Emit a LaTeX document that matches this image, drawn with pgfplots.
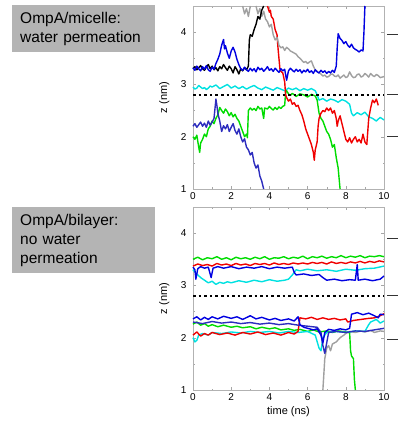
\documentclass[border=0pt]{standalone}
\usepackage{fontspec}
\setmainfont{Liberation Sans}
\usepackage{pgfplots}
\pgfplotsset{compat=1.18}

\definecolor{pblue}{RGB}{0,0,225}
\definecolor{pdblue}{RGB}{45,45,190}
\definecolor{pred}{RGB}{240,0,0}
\definecolor{pgreen}{RGB}{0,220,0}
\definecolor{pcyan}{RGB}{0,225,225}
\definecolor{pgray}{RGB}{160,160,160}
\definecolor{boxgray}{RGB}{180,180,180}

\pgfplotsset{
  panel/.style={
    scale only axis, width=191pt, height=183pt,
    xmin=0, xmax=10, ymin=1, ymax=4.5,
    xtick={0,2,...,10}, ytick={1,2,3,4},
    minor x tick num=1, minor y tick num=1,
    tick align=inside, major tick length=3pt, minor tick length=1.5pt,
    axis line style={gray!60}, every tick/.style={gray!70},
    tick label style={font=\fontsize{10}{11}\selectfont},
    yticklabel style={xshift=-3pt},
    /pgf/number format/assume math mode=true,
    clip=false, unbounded coords=jump,
    every axis y label/.style={at={(axis description cs:-0.15,0.5)}, rotate=90, anchor=center, font=\fontsize{11}{12}\selectfont},
    ylabel={z (nm)},
    every axis plot/.append style={line width=1.4pt, line join=round},
  },
}

\begin{document}
\begin{tikzpicture}
\useasboundingbox (0,0) rectangle (405pt,421pt);

\node[fill=boxgray, anchor=north west, minimum width=143pt, minimum height=47pt,
  text width=127pt, inner xsep=8pt, align=left, font=\fontsize{15.5}{19}\selectfont]
  at (12pt,416pt) {OmpA/micelle:\\water permeation};
\node[fill=boxgray, anchor=north west, minimum width=143pt, minimum height=66pt,
  text width=127pt, inner xsep=8pt, align=left, font=\fontsize{15.5}{19}\selectfont]
  at (12pt,214pt) {OmpA/bilayer:\\no water\\permeation};

% ---------------- micelle ----------------
\begin{axis}[panel, at={(193pt,232pt)}, anchor=south west]
% cyan
\addplot[pcyan] coordinates {(0,2.95)(0.1,2.91)(0.2,2.93)(0.3,2.98)(0.4,2.95)(0.5,2.92)(0.6,2.94)(0.7,2.90)(0.8,2.93)(0.9,2.97)(1.0,2.95)(1.2,2.99)(1.4,2.92)(1.6,2.96)(1.8,3.00)(2.0,2.93)(2.2,2.97)(2.4,2.92)(2.6,2.96)(2.8,2.91)(3.0,2.95)(3.2,2.98)(3.4,2.93)(3.6,2.90)(3.8,2.95)(4.0,2.92)(4.2,2.89)(4.4,2.94)(4.6,2.91)(4.8,2.88)(5.0,2.93)(5.2,2.90)(5.4,2.93)(5.6,2.88)(5.8,2.92)(6.0,2.89)(6.2,2.92)(6.4,2.88)(6.5,2.80)(6.6,2.70)(6.8,2.73)(7.0,2.68)(7.2,2.72)(7.4,2.70)(7.6,2.66)(7.8,2.71)(8.0,2.68)(8.2,2.62)(8.3,2.45)(8.4,2.40)(8.6,2.46)(8.8,2.42)(9.0,2.47)(9.2,2.38)(9.4,2.35)(9.6,2.30)(9.8,2.37)(10,2.32)};
% green
\addplot[pgreen] coordinates {(0,2.00)(0.1,1.95)(0.2,2.03)(0.3,1.80)(0.35,1.70)(0.4,1.88)(0.5,1.95)(0.6,2.05)(0.7,2.00)(0.8,2.15)(0.9,2.20)(1.0,2.30)(1.1,2.25)(1.2,2.35)(1.3,2.42)(1.4,2.56)(1.5,2.50)(1.6,2.45)(1.7,2.53)(1.8,2.48)(1.9,2.40)(2.0,2.46)(2.1,2.38)(2.2,2.43)(2.3,2.35)(2.4,2.30)(2.5,2.20)(2.6,2.10)(2.7,2.00)(2.8,2.05)(2.85,1.98)(2.9,2.50)(3.0,2.55)(3.1,2.51)(3.2,2.54)(3.3,2.50)(3.4,2.58)(3.5,2.53)(3.6,2.55)(3.7,2.35)(3.75,2.55)(3.9,2.53)(4.0,2.58)(4.1,2.54)(4.2,2.51)(4.3,2.56)(4.4,2.52)(4.5,2.57)(4.6,2.54)(4.7,2.58)(4.8,2.60)(4.85,2.85)(4.9,2.88)(5.0,2.82)(5.1,2.79)(5.2,2.83)(5.4,2.77)(5.6,2.82)(5.8,2.80)(6.0,2.76)(6.2,2.81)(6.4,2.78)(6.5,2.70)(6.6,2.45)(6.7,2.35)(6.8,2.30)(6.9,2.20)(7.0,2.10)(7.1,2.05)(7.2,1.95)(7.3,1.80)(7.4,1.85)(7.5,1.60)(7.6,1.40)(7.65,1.20)(7.7,1.00)};
% dark blue
\addplot[pdblue] coordinates {(0,2.20)(0.1,2.25)(0.2,2.18)(0.3,2.23)(0.4,2.28)(0.5,2.20)(0.6,2.26)(0.7,2.18)(0.8,2.30)(0.9,2.22)(1.0,2.28)(1.1,2.35)(1.2,2.72)(1.25,2.60)(1.3,2.45)(1.4,2.30)(1.5,2.10)(1.6,2.21)(1.7,2.15)(1.8,2.23)(1.9,2.10)(2.0,2.18)(2.1,2.25)(2.2,2.12)(2.3,2.05)(2.4,2.15)(2.5,2.00)(2.6,1.90)(2.7,1.96)(2.8,1.80)(2.9,1.75)(3.0,1.65)(3.1,1.70)(3.2,1.50)(3.3,1.40)(3.4,1.46)(3.5,1.25)(3.6,1.15)(3.7,1.00)};
% red
\addplot[pred] coordinates {(3.9,4.50)(4.0,4.38)(4.05,4.42)(4.1,4.30)(4.2,4.25)(4.3,4.05)(4.4,3.95)(4.45,3.70)(4.5,3.50)(4.55,3.30)(4.6,3.25)(4.7,3.22)(4.8,3.05)(4.85,2.80)(4.9,2.75)(5.0,2.68)(5.1,2.72)(5.2,2.62)(5.3,2.65)(5.4,2.58)(5.5,2.60)(5.6,2.50)(5.7,2.42)(5.8,2.30)(5.9,2.15)(6.0,2.05)(6.1,1.95)(6.2,1.85)(6.3,1.70)(6.35,1.55)(6.4,1.75)(6.5,1.90)(6.55,2.20)(6.6,2.35)(6.7,2.45)(6.8,2.50)(6.9,2.48)(7.0,2.55)(7.1,2.50)(7.2,2.55)(7.3,2.45)(7.4,2.50)(7.5,2.35)(7.55,2.20)(7.6,2.30)(7.7,2.40)(7.8,2.25)(7.9,2.10)(8.0,1.95)(8.1,1.90)(8.2,1.98)(8.3,1.88)(8.4,1.95)(8.5,2.00)(8.6,1.90)(8.7,1.95)(8.8,1.88)(8.9,2.05)(9.0,1.90)(9.1,1.85)(9.2,2.35)(9.3,2.55)(9.4,2.70)(9.5,2.65)(9.6,2.72)(9.7,2.60)};
% gray
\addplot[pgray] coordinates {(2.6,4.50)(2.7,4.35)(2.8,4.45)(2.9,4.30)(3.0,4.50)(3.05,nan)(3.3,4.50)(3.4,4.35)(3.5,4.45)(3.6,4.30)(3.7,4.40)(3.8,4.25)(3.9,4.20)(4.0,4.10)(4.1,4.15)(4.2,3.95)(4.3,3.85)(4.4,3.90)(4.5,3.75)(4.6,3.70)(4.7,3.72)(4.8,3.65)(4.9,3.71)(5.0,3.68)(5.1,3.64)(5.2,3.62)(5.3,3.60)(5.4,3.58)(5.5,3.53)(5.6,3.50)(5.7,3.46)(5.8,3.42)(5.9,3.44)(6.0,3.40)(6.1,3.43)(6.2,3.45)(6.3,3.35)(6.4,3.28)(6.5,3.25)(6.6,3.22)(6.7,3.20)(6.8,3.16)(6.9,3.18)(7.0,3.14)(7.1,3.15)(7.2,3.19)(7.3,3.20)(7.4,3.16)(7.5,3.15)(7.6,3.18)(7.7,3.12)(7.8,3.15)(7.9,3.18)(8.0,3.13)(8.1,3.15)(8.2,3.24)(8.3,3.17)(8.4,3.13)(8.5,3.14)(8.6,3.19)(8.7,3.20)(8.8,3.14)(8.9,3.16)(9.0,3.21)(9.1,3.18)(9.2,3.14)(9.3,3.21)(9.4,3.17)(9.5,3.15)(9.6,3.19)(9.7,3.17)(9.8,3.13)(9.9,3.14)(10,3.15)};
% black
\addplot[black] coordinates {(0,3.30)(0.1,3.34)(0.2,3.28)(0.3,3.32)(0.4,3.36)(0.5,3.30)(0.6,3.27)(0.7,3.33)(0.8,3.38)(0.9,3.30)(1.0,3.35)(1.1,3.28)(1.2,3.32)(1.3,3.26)(1.4,3.34)(1.5,3.30)(1.6,3.38)(1.7,3.32)(1.8,3.27)(1.9,3.35)(2.0,3.30)(2.1,3.22)(2.2,3.34)(2.3,3.28)(2.4,3.20)(2.5,3.30)(2.6,3.26)(2.7,3.32)(2.8,3.28)(2.9,3.35)(2.95,3.85)(3.0,3.95)(3.1,3.92)(3.2,4.05)(3.3,4.15)(3.4,4.30)(3.5,4.25)(3.6,4.42)(3.7,4.50)};
% blue
\addplot[pblue] coordinates {(0,3.32)(0.1,3.27)(0.2,3.35)(0.3,3.30)(0.4,3.26)(0.5,3.34)(0.6,3.29)(0.7,3.36)(0.8,3.28)(0.9,3.25)(1.0,3.33)(1.1,3.29)(1.2,3.40)(1.3,3.48)(1.4,3.58)(1.5,3.75)(1.6,3.86)(1.65,3.68)(1.7,3.74)(1.8,3.60)(1.9,3.50)(2.0,3.64)(2.1,3.71)(2.2,3.62)(2.3,3.48)(2.4,3.38)(2.5,3.30)(2.6,3.27)(2.7,3.33)(2.8,3.28)(2.9,3.25)(3.0,3.31)(3.1,3.26)(3.2,3.30)(3.3,3.24)(3.4,3.33)(3.5,3.28)(3.6,3.31)(3.7,3.25)(3.8,3.29)(3.9,3.34)(4.0,3.27)(4.1,3.30)(4.2,3.25)(4.3,3.31)(4.4,3.27)(4.5,3.23)(4.6,3.30)(4.7,3.26)(4.8,3.29)(4.9,3.08)(5.0,3.26)(5.1,3.31)(5.2,3.27)(5.3,3.24)(5.4,3.29)(5.5,3.25)(5.6,3.28)(5.7,3.22)(5.8,3.27)(5.9,3.24)(6.0,3.29)(6.1,3.23)(6.2,3.26)(6.3,3.21)(6.4,3.28)(6.5,3.24)(6.6,3.22)(6.7,3.27)(6.8,3.23)(6.9,3.26)(7.0,3.21)(7.1,3.25)(7.2,3.22)(7.3,3.27)(7.4,3.23)(7.5,3.35)(7.55,3.70)(7.6,3.97)(7.7,3.88)(7.8,3.84)(7.9,3.78)(8.0,3.82)(8.1,3.75)(8.2,3.71)(8.3,3.77)(8.4,3.70)(8.5,3.67)(8.6,3.65)(8.7,3.62)(8.8,3.66)(8.9,3.64)(8.95,4.00)(9.0,4.50)};
% dotted reference
\addplot[black, line width=2.6pt, dash pattern=on 2.6pt off 3pt] coordinates {(0,2.8)(10,2.8)};
% side marks
\addplot[black!80, line width=0.9pt] coordinates {(10.16,3.95)(10.73,3.95)};
\addplot[black!80, line width=0.9pt] coordinates {(10.16,2.80)(10.73,2.80)};
\addplot[black!80, line width=0.9pt] coordinates {(10.16,2.00)(10.73,2.00)};
\end{axis}

% ---------------- bilayer ----------------
\begin{axis}[panel, at={(193pt,31pt)}, anchor=south west,
  xlabel={time (ns)},
  every axis x label/.style={at={(axis description cs:0.5,0)}, yshift=-22pt, anchor=center, font=\fontsize{11}{12}\selectfont}]
% gray
\addplot[pgray] coordinates {(6.8,1.00)(6.85,1.30)(6.9,1.60)(7.0,1.80)(7.1,1.85)(7.2,1.75)(7.3,1.88)(7.5,1.92)(7.7,2.00)(7.9,2.05)(8.0,2.08)(8.2,2.12)(8.5,2.10)(8.8,2.13)(9.0,2.11)(9.3,2.14)(9.5,2.10)(9.8,2.13)(10,2.12)};
% green lower
\addplot[pgreen] coordinates {(0,2.26)(0.2,2.30)(0.4,2.24)(0.6,2.27)(0.8,2.22)(1.0,2.25)(1.3,2.21)(1.6,2.24)(2.0,2.20)(2.3,2.22)(2.6,2.19)(3.0,2.21)(3.3,2.17)(3.6,2.20)(4.0,2.17)(4.3,2.19)(4.6,2.15)(5.0,2.17)(5.3,2.14)(5.6,2.16)(6.0,2.12)(6.3,2.15)(6.6,2.11)(7.0,2.13)(7.3,2.10)(7.6,2.13)(8.0,2.11)(8.2,2.10)(8.25,1.75)(8.3,1.65)(8.4,1.60)(8.45,1.20)(8.5,1.00)};
% cyan lower
\addplot[pcyan] coordinates {(0,2.00)(0.1,1.92)(0.2,1.95)(0.3,2.05)(0.5,2.08)(0.8,2.05)(1.0,2.10)(1.5,2.08)(2.0,2.11)(2.5,2.09)(3.0,2.12)(3.5,2.10)(4.0,2.12)(4.5,2.09)(5.0,2.12)(5.5,2.10)(6.0,2.12)(6.4,2.05)(6.6,1.80)(6.7,1.75)(6.8,2.00)(7.0,2.10)(7.5,2.12)(8.0,2.10)(8.5,2.13)(9.0,2.12)(9.2,2.25)(9.3,2.30)(9.6,2.35)(9.8,2.28)(10,2.32)};
% red lower
\addplot[pred] coordinates {(0,2.05)(0.2,2.11)(0.4,2.03)(0.6,2.08)(0.8,2.05)(1.0,2.10)(1.4,2.06)(1.8,2.09)(2.2,2.05)(2.6,2.10)(3.0,2.07)(3.4,2.11)(3.8,2.06)(4.2,2.09)(4.6,2.05)(5.0,2.10)(5.3,2.07)(5.5,2.12)(5.6,2.38)(5.9,2.36)(6.2,2.39)(6.5,2.35)(6.8,2.38)(7.1,2.35)(7.4,2.37)(7.7,2.34)(8.0,2.36)(8.1,2.30)(8.4,2.33)(8.8,2.35)(9.2,2.37)(9.5,2.38)(9.8,2.42)(10,2.46)};
% dark blue lower
\addplot[pdblue] coordinates {(0,2.30)(0.5,2.27)(1.0,2.31)(1.5,2.28)(2.0,2.30)(2.5,2.27)(3.0,2.29)(3.5,2.26)(4.0,2.28)(4.5,2.25)(5.0,2.27)(5.5,2.24)(6.0,2.22)(6.5,2.20)(6.7,2.10)(6.8,1.85)(6.9,1.70)(7.0,1.90)(7.1,2.10)(7.5,2.12)(8.0,2.10)(8.5,2.13)(9.0,2.12)(9.5,2.15)(10,2.18)};
% blue lower
\addplot[pblue] coordinates {(0,2.36)(0.2,2.40)(0.4,2.34)(0.6,2.39)(0.8,2.35)(1.0,2.40)(1.3,2.36)(1.6,2.41)(2.0,2.37)(2.3,2.40)(2.6,2.35)(3.0,2.42)(3.3,2.36)(3.6,2.39)(4.0,2.34)(4.3,2.37)(4.6,2.33)(5.0,2.36)(5.3,2.32)(5.5,2.40)(5.6,2.25)(5.8,2.20)(6.0,2.18)(6.3,2.15)(6.5,2.17)(6.7,2.05)(6.8,1.90)(6.9,2.10)(7.1,2.16)(7.4,2.14)(7.7,2.17)(8.0,2.15)(8.2,2.18)(8.3,2.45)(8.6,2.48)(8.9,2.44)(9.2,2.47)(9.5,2.42)(9.7,2.38)(9.8,2.45)(10,2.44)};
% cyan upper
\addplot[pcyan] coordinates {(0,3.30)(0.2,3.22)(0.4,3.15)(0.6,3.10)(0.8,3.05)(1.0,3.08)(1.2,3.02)(1.4,3.06)(1.6,3.04)(1.8,3.07)(2.0,3.05)(2.4,3.09)(2.8,3.06)(3.2,3.10)(3.6,3.07)(4.0,3.11)(4.4,3.08)(4.8,3.10)(5.0,3.12)(5.2,3.20)(5.4,3.30)(5.6,3.28)(6.0,3.31)(6.5,3.28)(7.0,3.30)(7.5,3.27)(8.0,3.31)(8.5,3.29)(9.0,3.32)(9.5,3.33)(10,3.37)};
% blue upper
\addplot[pblue] coordinates {(0,3.35)(0.1,3.30)(0.15,3.12)(0.25,3.32)(0.4,3.36)(0.6,3.33)(0.8,3.35)(0.95,3.15)(1.05,3.33)(1.3,3.36)(1.6,3.33)(2.0,3.36)(2.4,3.32)(2.8,3.35)(3.2,3.33)(3.6,3.36)(4.0,3.32)(4.4,3.35)(4.8,3.33)(5.2,3.35)(5.3,3.25)(5.4,3.20)(5.8,3.22)(6.2,3.19)(6.6,3.21)(6.8,3.15)(7.0,3.10)(7.4,3.12)(7.8,3.09)(8.2,3.11)(8.5,3.10)(8.6,3.40)(8.65,3.10)(9.0,3.12)(9.4,3.09)(9.8,3.12)(10,3.18)};
% red upper
\addplot[pred] coordinates {(0,3.37)(0.25,3.41)(0.5,3.38)(0.75,3.40)(1,3.37)(1.25,3.42)(1.5,3.39)(1.75,3.41)(2,3.38)(2.25,3.42)(2.5,3.39)(2.75,3.41)(3,3.38)(3.25,3.42)(3.5,3.40)(3.75,3.42)(4,3.39)(4.25,3.43)(4.5,3.40)(4.75,3.42)(5,3.40)(5.25,3.43)(5.5,3.41)(5.75,3.43)(6,3.41)(6.25,3.44)(6.5,3.42)(6.75,3.44)(7,3.41)(7.25,3.45)(7.5,3.42)(7.75,3.44)(8,3.42)(8.25,3.45)(8.5,3.43)(8.75,3.46)(9,3.43)(9.25,3.46)(9.5,3.44)(9.75,3.47)(10,3.45)};
% green upper
\addplot[pgreen] coordinates {(0,3.50)(0.25,3.54)(0.5,3.49)(0.75,3.53)(1,3.51)(1.25,3.55)(1.5,3.50)(1.75,3.53)(2,3.49)(2.25,3.54)(2.5,3.51)(2.75,3.53)(3,3.50)(3.25,3.54)(3.5,3.51)(3.75,3.55)(4,3.50)(4.25,3.53)(4.5,3.52)(4.75,3.55)(5,3.51)(5.25,3.54)(5.5,3.52)(5.75,3.56)(6,3.51)(6.25,3.55)(6.5,3.53)(6.75,3.56)(7,3.52)(7.25,3.55)(7.5,3.53)(7.75,3.57)(8,3.53)(8.25,3.56)(8.5,3.54)(8.75,3.57)(9,3.53)(9.25,3.56)(9.5,3.55)(9.75,3.57)(10,3.55)};
% dotted reference
\addplot[black, line width=2.6pt, dash pattern=on 2.6pt off 3pt] coordinates {(0,2.8)(10,2.8)};
% side marks
\addplot[black!80, line width=0.9pt] coordinates {(10.16,3.90)(10.73,3.90)};
\addplot[black!80, line width=0.9pt] coordinates {(10.16,2.80)(10.73,2.80)};
\addplot[black!80, line width=0.9pt] coordinates {(10.16,1.97)(10.73,1.97)};
\end{axis}
\end{tikzpicture}
\end{document}
